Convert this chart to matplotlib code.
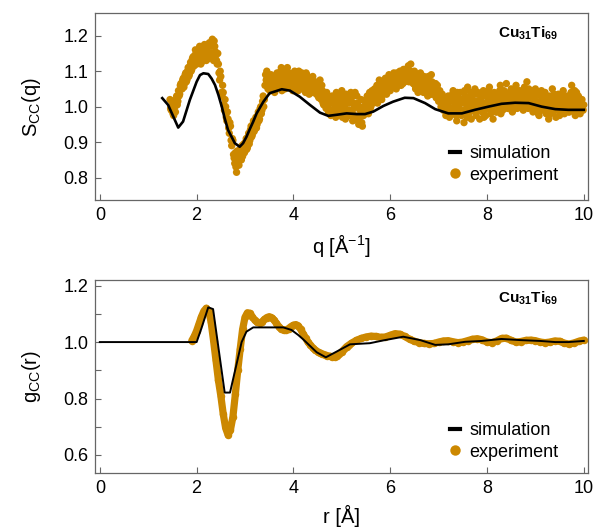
import matplotlib
matplotlib.use("Agg")
import matplotlib.pyplot as plt
import numpy as np
from matplotlib.lines import Line2D
from matplotlib.ticker import MultipleLocator

plt.rcParams['font.family'] = ['Liberation Sans', 'DejaVu Sans']
plt.rcParams['mathtext.fontset'] = 'custom'
plt.rcParams['mathtext.rm'] = 'Liberation Sans'
plt.rcParams['mathtext.it'] = 'Liberation Sans:italic'
plt.rcParams['mathtext.bf'] = 'Liberation Sans:bold'

gold = '#cc8800'
spine_col = '#666666'

# S_CC(q): simulation
q_sim = [1.29, 1.41, 1.62, 1.72, 1.86, 2.0, 2.07, 2.14, 2.24, 2.31, 2.38, 2.45,
         2.52, 2.58, 2.65, 2.79, 2.89, 2.96, 3.03, 3.10, 3.17, 3.24, 3.38, 3.51,
         3.76, 3.93, 4.13, 4.34, 4.55, 4.72, 4.89, 5.10, 5.31, 5.48, 5.65, 5.86,
         6.06, 6.30, 6.48, 6.72, 6.93, 7.20, 7.48, 7.75, 8.03, 8.30, 8.58, 8.86,
         9.13, 9.41, 9.68, 10.0]
s_sim = [1.024, 1.005, 0.941, 0.958, 1.019, 1.070, 1.089, 1.094, 1.092, 1.079, 1.061, 1.033,
         1.000, 0.967, 0.934, 0.897, 0.887, 0.897, 0.915, 0.937, 0.958, 0.981, 1.014, 1.038,
         1.049, 1.045, 1.028, 1.005, 0.983, 0.974, 0.977, 0.981, 0.979, 0.979, 0.986, 1.002,
         1.014, 1.025, 1.024, 1.010, 0.993, 0.981, 0.981, 0.991, 1.000, 1.008, 1.011, 1.010,
         1.000, 0.993, 0.991, 0.991]

# S_CC(q): experiment, two interleaved scans, each sampled every 0.025 1/A
q_exp_a = np.arange(343) * 0.025 + 1.45
s_exp_a = [
    1.020, 0.990, 1.010, 0.975, 1.000, 1.020, 1.005, 1.045, 1.035, 1.065,
    1.050, 1.080, 1.065, 1.095, 1.075, 1.110, 1.090, 1.125, 1.105, 1.140,
    1.115, 1.160, 1.120, 1.150, 1.130, 1.165, 1.125, 1.155, 1.140, 1.170,
    1.130, 1.165, 1.140, 1.175, 1.150, 1.190, 1.130, 1.170, 1.145, 1.120,
    1.120, 1.075, 1.085, 1.030, 1.040, 0.990, 1.000, 0.960, 0.965, 0.925,
    0.945, 0.890, 0.905, 0.855, 0.870, 0.815, 0.860, 0.835, 0.880, 0.850,
    0.860, 0.895, 0.875, 0.910, 0.885, 0.925, 0.905, 0.945, 0.920, 0.960,
    0.935, 0.970, 0.950, 0.985, 0.965, 1.000, 0.990, 1.030, 1.020, 1.090,
    1.100, 1.050, 1.075, 1.045, 1.070, 1.055, 1.085, 1.050, 1.080, 1.060,
    1.090, 1.055, 1.110, 1.065, 1.095, 1.050, 1.080, 1.110, 1.060, 1.085,
    1.055, 1.090, 1.065, 1.100, 1.050, 1.080, 1.045, 1.085, 1.070, 1.095,
    1.050, 1.080, 1.040, 1.090, 1.060, 1.035, 1.075, 1.050, 1.085, 1.045,
    1.070, 1.035, 1.060, 1.025, 1.075, 1.020, 1.045, 1.005, 1.030, 0.995,
    1.025, 0.985, 1.010, 0.975, 1.030, 0.990, 1.015, 0.970, 1.035, 0.995,
    1.020, 0.980, 1.045, 0.990, 1.005, 0.965, 1.030, 0.985, 1.010, 0.975,
    1.025, 0.960, 0.995, 1.040, 0.970, 1.010, 0.950, 0.990, 1.020, 0.945,
    0.975, 1.015, 0.990, 1.030, 0.980, 1.040, 1.000, 1.045, 1.010, 1.050,
    1.020, 1.060, 1.030, 1.075, 1.040, 1.020, 1.065, 1.045, 1.080, 1.035,
    1.060, 1.090, 1.045, 1.075, 1.055, 1.095, 1.070, 1.050, 1.085, 1.065,
    1.100, 1.060, 1.085, 1.105, 1.070, 1.095, 1.080, 1.115, 1.075, 1.120,
    1.095, 1.065, 1.100, 1.050, 1.085, 1.040, 1.075, 1.095, 1.050, 1.070,
    1.085, 1.040, 1.065, 1.030, 1.075, 1.050, 1.090, 1.035, 1.060, 1.045,
    1.025, 1.060, 1.015, 1.045, 1.000, 1.035, 0.990, 1.020, 0.975, 1.010,
    1.030, 0.970, 1.015, 0.985, 1.045, 0.980, 1.005, 0.960, 1.025, 0.990,
    1.040, 0.975, 1.010, 0.955, 1.030, 0.995, 1.055, 0.980, 1.015, 0.965,
    1.020, 0.990, 1.050, 0.975, 1.035, 1.000, 0.965, 1.025, 0.985, 1.045,
    1.010, 0.975, 1.030, 0.995, 1.055, 0.980, 1.020, 0.965, 1.040, 1.005,
    0.985, 1.035, 1.000, 1.060, 1.015, 0.990, 1.045, 1.005, 1.065, 0.995,
    1.030, 1.000, 1.050, 0.985, 1.040, 1.010, 1.060, 0.995, 1.025, 1.045,
    1.005, 1.035, 0.990, 1.055, 1.015, 1.070, 0.995, 1.030, 1.010, 1.045,
    0.985, 1.025, 1.050, 0.995, 1.035, 0.975, 1.015, 1.045, 0.990, 1.020,
    1.040, 0.980, 1.010, 0.965, 1.030, 0.995, 1.050, 0.985, 1.020, 0.970,
    1.005, 1.035, 0.975, 1.025, 0.990, 1.045, 0.980, 1.015, 0.995, 1.030,
    0.985, 1.020, 1.060, 0.990, 1.010, 0.975, 1.040, 1.000, 1.025, 0.980,
    1.015, 0.995, 1.005,
]
q_exp_b = np.arange(342) * 0.025 + 1.4625
s_exp_b = [
    0.995, 1.015, 0.980, 1.005, 0.985, 1.030, 1.015, 1.030, 1.060, 1.050,
    1.075, 1.055, 1.090, 1.070, 1.100, 1.085, 1.115, 1.100, 1.135, 1.120,
    1.145, 1.125, 1.155, 1.140, 1.170, 1.120, 1.160, 1.135, 1.175, 1.150,
    1.155, 1.135, 1.180, 1.145, 1.170, 1.140, 1.185, 1.155, 1.130, 1.150,
    1.095, 1.100, 1.040, 1.060, 1.005, 1.020, 0.970, 0.985, 0.940, 0.955,
    0.905, 0.910, 0.865, 0.840, 0.830, 0.875, 0.845, 0.870, 0.855, 0.890,
    0.885, 0.870, 0.900, 0.880, 0.915, 0.895, 0.935, 0.915, 0.950, 0.930,
    0.955, 0.940, 0.975, 0.960, 0.995, 0.980, 1.015, 1.000, 1.060, 1.075,
    1.080, 1.065, 1.045, 1.090, 1.060, 1.075, 1.040, 1.065, 1.095, 1.055,
    1.070, 1.100, 1.045, 1.080, 1.060, 1.105, 1.070, 1.055, 1.095, 1.065,
    1.075, 1.045, 1.085, 1.060, 1.090, 1.065, 1.100, 1.055, 1.080, 1.050,
    1.070, 1.055, 1.095, 1.065, 1.045, 1.080, 1.060, 1.040, 1.070, 1.055,
    1.045, 1.065, 1.030, 1.055, 1.040, 1.060, 1.010, 1.035, 1.020, 1.040,
    1.000, 1.020, 0.990, 1.010, 0.980, 1.020, 1.000, 1.040, 0.985, 1.010,
    0.995, 1.030, 0.970, 1.015, 1.000, 1.035, 0.975, 1.020, 0.990, 1.040,
    0.990, 1.010, 0.975, 1.005, 1.030, 0.960, 1.000, 0.975, 0.955, 0.985,
    1.000, 0.985, 1.020, 1.005, 1.025, 0.995, 1.030, 1.015, 1.040, 1.020,
    1.045, 1.010, 1.050, 1.060, 1.025, 1.050, 1.035, 1.070, 1.055, 1.045,
    1.075, 1.050, 1.065, 1.085, 1.070, 1.055, 1.080, 1.095, 1.060, 1.085,
    1.075, 1.090, 1.065, 1.085, 1.095, 1.080, 1.105, 1.070, 1.100, 1.085,
    1.075, 1.085, 1.060, 1.080, 1.065, 1.090, 1.055, 1.060, 1.080, 1.040,
    1.060, 1.075, 1.045, 1.085, 1.055, 1.035, 1.070, 1.050, 1.040, 1.065,
    1.050, 1.035, 1.040, 1.020, 1.030, 1.005, 1.015, 0.990, 1.025, 0.985,
    1.000, 1.020, 0.990, 1.035, 0.995, 1.020, 0.975, 1.040, 1.000, 1.015,
    0.990, 1.020, 0.980, 1.045, 1.010, 0.970, 1.025, 1.000, 1.040, 0.990,
    1.005, 1.035, 0.985, 1.015, 1.040, 0.990, 1.010, 1.000, 1.030, 0.970,
    1.035, 0.995, 1.015, 1.045, 1.000, 1.035, 0.990, 1.010, 1.025, 0.985,
    1.020, 1.005, 1.045, 0.980, 1.030, 1.015, 1.000, 1.040, 1.020, 1.035,
    1.015, 1.040, 0.990, 1.025, 1.000, 1.045, 1.020, 1.035, 1.005, 1.015,
    1.025, 0.995, 1.045, 1.000, 1.035, 1.020, 1.050, 1.010, 1.040, 1.000,
    1.030, 1.005, 1.015, 1.040, 0.980, 1.010, 1.030, 0.995, 1.035, 1.000,
    1.010, 1.025, 0.990, 1.015, 0.980, 1.020, 1.005, 1.035, 0.995, 1.010,
    1.025, 0.990, 1.020, 1.000, 1.035, 1.010, 1.030, 0.995, 1.020, 0.985,
    1.005, 1.040, 0.995, 1.025, 1.045, 0.990, 1.015, 1.030, 0.985, 1.010,
    1.020, 0.990,
]

# g_CC(r): simulation
r_sim = [0.0, 2.0, 2.1, 2.24, 2.34, 2.58, 2.69, 2.93, 3.03, 3.17, 3.45, 3.79,
         3.96, 4.10, 4.2, 4.48, 4.67, 4.89, 5.17, 5.58, 5.86, 6.27, 6.62, 6.93, 7.2,
         7.55, 7.89, 8.30, 8.69, 9.10, 9.41, 9.68, 10.0]
g_sim = [1.0, 1.0, 1.049, 1.123, 1.117, 0.821, 0.821, 1.0, 1.037, 1.052, 1.052, 1.052,
         1.043, 1.025, 1.01, 0.964, 0.946, 0.966, 0.992, 0.996, 1.006, 1.019, 1.007, 0.99, 0.992,
         1.001, 1.004, 1.011, 1.007, 1.004, 1.0, 1.0, 1.004]

# g_CC(r): experiment
r_exp = [1.90, 1.95, 2.00, 2.05, 2.10, 2.15, 2.20, 2.25, 2.30, 2.35, 2.40, 2.45,
         2.50, 2.55, 2.60, 2.65, 2.70, 2.75, 2.80, 2.85, 2.90, 2.95, 3.00, 3.05,
         3.10, 3.15, 3.20, 3.25, 3.30, 3.35, 3.40, 3.45, 3.50, 3.55, 3.60, 3.65,
         3.70, 3.75, 3.80, 3.85, 3.90, 3.95, 4.00, 4.05, 4.10, 4.15, 4.20, 4.25,
         4.30, 4.35, 4.40, 4.45, 4.50, 4.55, 4.60, 4.65, 4.70, 4.75, 4.80, 4.85,
         4.90, 4.95, 5.00, 5.05, 5.10, 5.15, 5.20, 5.30, 5.40, 5.50, 5.60, 5.70,
         5.80, 5.90, 6.00, 6.10, 6.20, 6.30, 6.40, 6.50, 6.60, 6.70, 6.80, 6.90,
         7.00, 7.10, 7.20, 7.30, 7.40, 7.50, 7.60, 7.70, 7.80, 7.90, 8.00, 8.10,
         8.20, 8.30, 8.40, 8.50, 8.60, 8.70, 8.80, 8.90, 9.00, 9.10, 9.20, 9.30,
         9.40, 9.50, 9.60, 9.70, 9.80, 9.90, 10.00]
g_exp = [1.005, 1.020, 1.040, 1.065, 1.090, 1.110, 1.120, 1.110, 1.070, 1.005, 0.935, 0.865,
         0.810, 0.745, 0.695, 0.671, 0.690, 0.735, 0.815, 0.900, 0.975, 1.045, 1.088, 1.104,
         1.102, 1.090, 1.078, 1.070, 1.068, 1.072, 1.080, 1.087, 1.090, 1.087, 1.078, 1.066,
         1.055, 1.046, 1.042, 1.043, 1.048, 1.055, 1.060, 1.062, 1.058, 1.045, 1.030, 1.015,
         1.000, 0.990, 0.980, 0.972, 0.966, 0.962, 0.958, 0.955, 0.952, 0.950, 0.948, 0.947,
         0.950, 0.957, 0.966, 0.975, 0.984, 0.990, 0.996, 1.006, 1.013, 1.018, 1.021, 1.020,
         1.017, 1.018, 1.024, 1.030, 1.028, 1.020, 1.010, 1.003, 0.998, 0.995, 0.994, 0.995,
         1.000, 1.004, 1.005, 1.001, 0.998, 1.000, 1.005, 1.010, 1.012, 1.008, 1.000, 0.998,
         1.004, 1.013, 1.014, 1.006, 1.000, 1.002, 1.006, 1.007, 1.005, 1.000, 0.998, 1.000,
         1.004, 1.003, 0.996, 0.993, 0.997, 1.003, 1.007]

fig = plt.figure(figsize=(6.12, 5.31), dpi=100)
ax1 = fig.add_axes([0.156, 0.6234, 0.805, 0.3512])
ax2 = fig.add_axes([0.156, 0.1087, 0.805, 0.364])


def style(ax):
    for sp in ax.spines.values():
        sp.set_color(spine_col)
        sp.set_linewidth(0.9)
    ax.tick_params(which='both', direction='in', length=4.5, width=0.8,
                   color=spine_col, labelsize=13, pad=5)
    ax.set_xlim(-0.09, 10.09)
    ax.set_xticks([0, 2, 4, 6, 8, 10])


# top panel
ax1.plot(q_sim, s_sim, color='black', lw=1.9, zorder=3)
ax1.scatter(np.concatenate([q_exp_a, q_exp_b]), s_exp_a + s_exp_b,
            s=28, color=gold, edgecolors='none', zorder=2)
style(ax1)
ax1.set_ylim(0.737, 1.2625)
ax1.set_yticks([0.8, 0.9, 1.0, 1.1, 1.2])
ax1.set_xlabel('q [Å$^{-1}$]', fontsize=14.5, labelpad=6)
ax1.set_ylabel('S$_{\\mathrm{CC}}$(q)', fontsize=14.5, labelpad=15)
ax1.text(0.939, 0.895, 'Cu$_{\\mathbf{31}}$Ti$_{\\mathbf{69}}$', transform=ax1.transAxes,
         ha='right', va='center', fontsize=11, fontweight='bold')

# bottom panel
ax2.plot(r_sim, g_sim, color='black', lw=1.4, zorder=3)
ax2.plot(r_exp, g_exp, color=gold, lw=5.2, marker='o', ms=5.4, mew=0,
         solid_capstyle='round', zorder=2)
style(ax2)
ax2.set_ylim(0.535, 1.22)
ax2.yaxis.set_major_locator(MultipleLocator(0.2))
ax2.yaxis.set_minor_locator(MultipleLocator(0.1))
ax2.set_xlabel('r [Å]', fontsize=14.5, labelpad=5.5)
ax2.set_ylabel('g$_{\\mathrm{CC}}$(r)', fontsize=14.5, labelpad=15)
ax2.text(0.939, 0.907, 'Cu$_{\\mathbf{31}}$Ti$_{\\mathbf{69}}$', transform=ax2.transAxes,
         ha='right', va='center', fontsize=11, fontweight='bold')

handles = [Line2D([], [], color='black', lw=3),
           Line2D([], [], color=gold, ls='none', marker='o', ms=7.5, mew=0)]
for ax, ly in ((ax1, 0.087), (ax2, 0.065)):
    ax.legend(handles, ['simulation', 'experiment'], loc='lower right',
              bbox_to_anchor=(0.94, ly), frameon=False, fontsize=13,
              handlelength=0.6, handletextpad=0.5, labelspacing=0.25,
              borderpad=0, borderaxespad=0)

fig.savefig('out.png', dpi=100)
